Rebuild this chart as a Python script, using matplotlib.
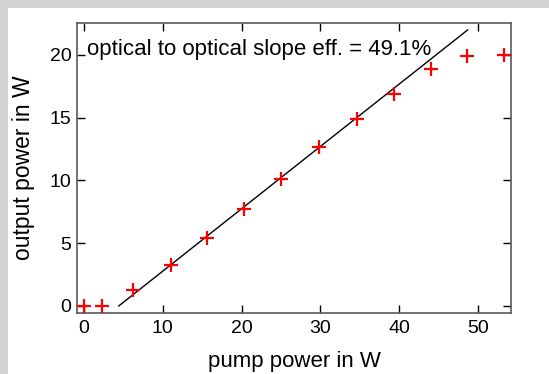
import matplotlib
matplotlib.use("Agg")
import matplotlib.pyplot as plt
from matplotlib.patches import Rectangle

# -------- data --------
pump_w = [0.0, 2.3, 6.2, 11.0, 15.6, 20.3, 25.0, 29.8, 34.6, 39.3, 44.0, 48.6, 53.3]
output_w = [0.0, 0.0, 1.25, 3.3, 5.45, 7.75, 10.1, 12.7, 14.9, 16.9, 18.9, 19.9, 20.0]

fit_x = [4.4, 48.7]
fit_y = [0.0, 22.0]

x_ticks = [0, 10, 20, 30, 40, 50]
y_ticks = [0, 5, 10, 15, 20]
note = "optical to optical slope eff. = 49.1%"

plt.rcParams["font.family"] = ["Liberation Sans", "DejaVu Sans"]

fig = plt.figure(figsize=(5.49, 3.74), dpi=100, facecolor="#d4d4d4")
# white panel, gray strip left and top
fig.patches.append(Rectangle((8 / 549, 0), 1, 1 - 8 / 374, transform=fig.transFigure,
                             facecolor="white", edgecolor="none", zorder=-5))

ax = fig.add_axes([77 / 549, 1 - 313 / 374, 434 / 549, 290 / 374])
ax.plot(fit_x, fit_y, color="black", lw=1.0, zorder=2)
ax.plot(pump_w, output_w, ls="none", marker="+", ms=10, mew=1.6, color="red", zorder=3)

ax.set_xlim(-0.9, 54.2)
ax.set_ylim(-0.56, 22.55)
ax.set_xticks(x_ticks)
ax.set_yticks(y_ticks)

spine_col = "#5a5a5a"
for s in ax.spines.values():
    s.set_color(spine_col)
    s.set_linewidth(1.2)
ax.tick_params(direction="in", length=6, width=1, color="black", labelsize=14,
               top=True, right=True)
ax.tick_params(axis="x", pad=5)
ax.tick_params(axis="y", pad=4)

ax.text(0.4, 20.0, note, fontsize=16, va="baseline", ha="left")

ax.set_xlabel("pump power in W", fontsize=16, va="baseline")
ax.set_ylabel("output power in W", fontsize=16.5, va="baseline")
ax.xaxis.set_label_coords(0.5, -0.186)
ax.yaxis.set_label_coords(-0.108, 0.5)

fig.savefig("out.png", dpi=100, facecolor=fig.get_facecolor())
